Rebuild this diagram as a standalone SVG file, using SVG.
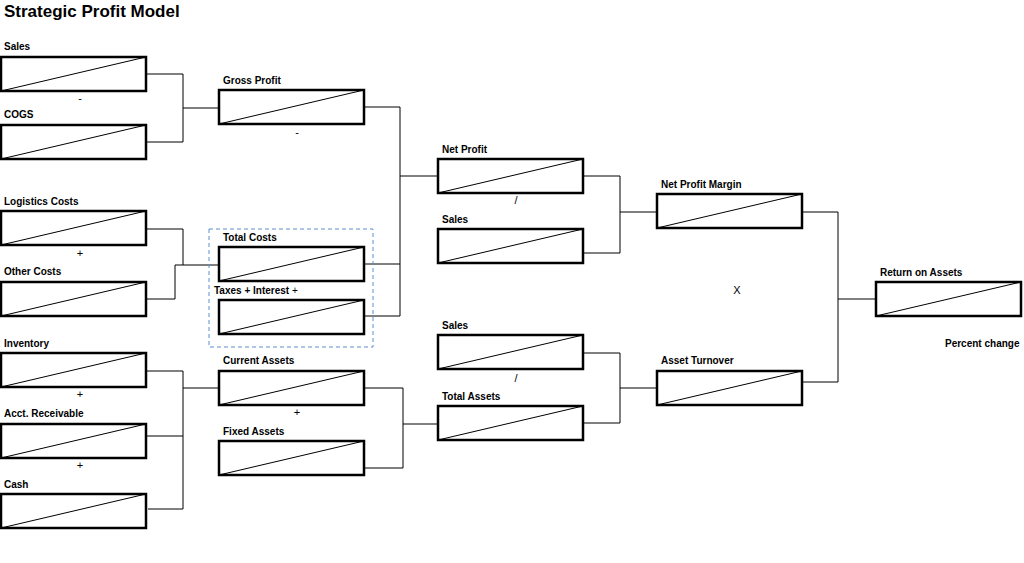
<svg xmlns="http://www.w3.org/2000/svg" width="1024" height="563" viewBox="0 0 1024 563">
<style>
text{font-family:"Liberation Sans",Arial,sans-serif;font-weight:bold;font-size:10px;fill:#000}
.op{font-weight:normal;font-size:11px;text-anchor:middle}
.b{fill:#fff;stroke:#000;stroke-width:2.5}
.d{stroke:#000;stroke-width:1}
.c{fill:none;stroke:#000;stroke-width:1}
</style>
<defs>
<g id="box"><rect class="b" x="0" y="0" width="145" height="34"/><line class="d" x1="0" y1="34" x2="145" y2="0"/></g>
</defs>
<rect width="1024" height="563" fill="#fff"/>
<text x="4" y="17" style="font-size:17px">Strategic Profit Model</text>
<g id="connectors">
<polyline class="c" points="146,74 183,74 183,142 146,142"/>
<line class="c" x1="183" y1="108" x2="219" y2="108"/>
<polyline class="c" points="365,107 400,107 400,316 365,316"/>
<line class="c" x1="365" y1="264" x2="400" y2="264"/>
<line class="c" x1="400" y1="176" x2="438" y2="176"/>
<polyline class="c" points="146,229 183,229 183,265"/>
<polyline class="c" points="146,299 175,299 175,265 219,265"/>
<polyline class="c" points="146,371 183,371 183,509 148,509"/>
<line class="c" x1="146" y1="436" x2="183" y2="436"/>
<line class="c" x1="183" y1="388" x2="219" y2="388"/>
<polyline class="c" points="365,388 403,388 403,468 365,468"/>
<line class="c" x1="403" y1="424" x2="438" y2="424"/>
<polyline class="c" points="584,176 620,176 620,253 584,253"/>
<line class="c" x1="620" y1="212" x2="657" y2="212"/>
<polyline class="c" points="584,353 620,353 620,423 584,423"/>
<line class="c" x1="620" y1="388" x2="657" y2="388"/>
<polyline class="c" points="803,212 838,212 838,382 803,382"/>
<line class="c" x1="838" y1="299" x2="876" y2="299"/>
</g>
<rect x="209" y="229" width="164" height="118" fill="none" stroke="#5b8fd0" stroke-width="1" stroke-dasharray="4,3"/>
<g id="sales"><text x="4" y="50">Sales</text><use href="#box" x="1" y="57"/></g>
<g id="cogs"><text x="4" y="118">COGS</text><use href="#box" x="1" y="125"/></g>
<g id="logistics"><text x="4" y="205">Logistics Costs</text><use href="#box" x="1" y="211"/></g>
<g id="other"><text x="4" y="275">Other Costs</text><use href="#box" x="1" y="282"/></g>
<g id="inventory"><text x="4" y="347">Inventory</text><use href="#box" x="1" y="353"/></g>
<g id="acct"><text x="4" y="417">Acct. Receivable</text><use href="#box" x="1" y="424"/></g>
<g id="cash"><text x="4" y="488">Cash</text><use href="#box" x="1" y="494"/></g>
<g id="gross"><text x="223" y="84">Gross Profit</text><use href="#box" x="219" y="90"/></g>
<g id="total-costs"><text x="223" y="241">Total Costs</text><use href="#box" x="219" y="247"/></g>
<g id="taxes"><text x="214" y="294">Taxes + Interest  <tspan style="font-weight:normal">+</tspan></text><use href="#box" x="219" y="300"/></g>
<g id="current"><text x="223" y="364">Current Assets</text><use href="#box" x="219" y="371"/></g>
<g id="fixed"><text x="223" y="435">Fixed Assets</text><use href="#box" x="219" y="441"/></g>
<g id="net-profit"><text x="442" y="153">Net Profit</text><use href="#box" x="438" y="159"/></g>
<g id="sales2"><text x="442" y="223">Sales</text><use href="#box" x="438" y="229"/></g>
<g id="sales3"><text x="442" y="329">Sales</text><use href="#box" x="438" y="335"/></g>
<g id="total-assets"><text x="442" y="400">Total Assets</text><use href="#box" x="438" y="406"/></g>
<g id="npm"><text x="661" y="188">Net Profit Margin</text><use href="#box" x="657" y="194"/></g>
<g id="turnover"><text x="661" y="364">Asset Turnover</text><use href="#box" x="657" y="371"/></g>
<g id="roa"><text x="880" y="276">Return on Assets</text><use href="#box" x="876" y="282"/></g>
<text x="945" y="347">Percent change</text>
<text class="op" x="80" y="102">-</text>
<text class="op" x="297" y="136">-</text>
<text class="op" x="516" y="204">/</text>
<text class="op" x="80" y="257">+</text>
<text class="op" x="80" y="398">+</text>
<text class="op" x="80" y="469">+</text>
<text class="op" x="297" y="416">+</text>
<text class="op" x="516" y="382">/</text>
<text class="op" x="737" y="294">X</text>
</svg>
